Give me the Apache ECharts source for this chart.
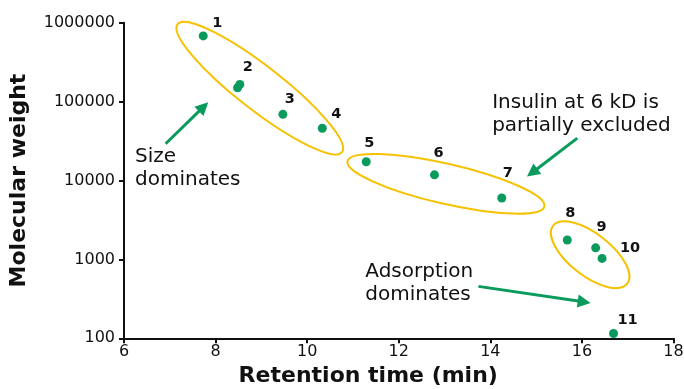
<!DOCTYPE html>
<html><head><meta charset="utf-8">
<script src="https://cdn.jsdelivr.net/npm/echarts@6/dist/echarts.min.js"></script>
<style>html,body{margin:0;padding:0;background:#fff}#c{width:684px;height:389px}</style>
</head><body><div id="c"></div>
<script>
// ---- data ----
const retentionTimes   = [7.73, 8.48, 8.53, 9.47, 10.33, 11.29, 12.78, 14.25, 15.68, 16.30, 16.44, 16.69];
const molecularWeights = [680000, 150000, 165000, 69000, 46000, 17300, 11800, 6000, 1760, 1400, 1030, 115];
const pointLabels      = ['1', '', '2', '3', '4', '5', '6', '7', '8', '9', '10', '11'];
const xTicks = [6, 8, 10, 12, 14, 16, 18];
const yTicks = [100, 1000, 10000, 100000, 1000000];
// annotation groups (ellipse end points, data units)
const ellipseEnds = [[7.17, 955000, 10.76, 22900], [10.88, 17600, 15.18, 4690], [15.37, 2670, 16.99, 492]];
// arrows (start -> tip, data units)
const arrowSegments = [[6.91, 29200, 7.84, 98200], [15.90, 34400, 14.80, 11200], [13.74, 455, 16.19, 281]];
// annotation texts and their anchors (data units)
const noteTexts = ['Size\ndominates', 'Insulin at 6 kD is\npartially excluded', 'Adsorption\ndominates'];
const noteAnchors = [[6.24, 28300], [14.04, 136000], [11.27, 964]];

// ---- styling (not data) ----
const labelOffsets = [[14,-13],[0,0],[8,-17],[7,-15],[14,-14],[3,-18],[4,-22],[6,-25],[3,-27],[6,-21],[28,-10],[14,-13]];
const ellipseMinor = [22, 20, 21];
const FONT = 'DejaVu Sans';
const GREEN = '#0A9A5C';
const YELLOW = '#F6C100';

const chart = echarts.init(document.getElementById('c'), null, {renderer: 'canvas'});

const scatterData = retentionTimes.map((x, i) => ({
  value: [x, molecularWeights[i]],
  label: {show: pointLabels[i] !== '', formatter: pointLabels[i], offset: labelOffsets[i]}
}));

chart.setOption({
  animation: false,
  backgroundColor: '#fff',
  grid: {left: 124, right: 10.5, top: 22.7, bottom: 50.7, outerBoundsMode: 'none', containLabel: false},
  xAxis: {
    type: 'value', min: xTicks[0], max: xTicks[xTicks.length - 1], interval: 2,
    name: 'Retention time (min)', nameLocation: 'middle', nameGap: 22,
    nameTextStyle: {fontFamily: FONT, fontWeight: 'bold', fontSize: 22, color: '#111', padding: [0, 61, 0, 0]},
    axisLine: {lineStyle: {color: '#111', width: 2}},
    axisTick: {length: 5, lineStyle: {color: '#111', width: 2}},
    axisLabel: {fontFamily: FONT, fontSize: 16, color: '#111', margin: 6},
    splitLine: {show: false}
  },
  yAxis: {
    type: 'log', logBase: 10, min: yTicks[0], max: yTicks[yTicks.length - 1],
    name: 'Molecular weight', nameLocation: 'middle', nameGap: 94,
    nameTextStyle: {fontFamily: FONT, fontWeight: 'bold', fontSize: 22, color: '#111'},
    axisLine: {lineStyle: {color: '#111', width: 2}},
    axisTick: {length: 5, lineStyle: {color: '#111', width: 2}},
    axisLabel: {fontFamily: FONT, fontSize: 16, color: '#111', margin: 9,
      formatter: v => String(Math.round(v))},
    splitLine: {show: false}, minorTick: {show: false}
  },
  series: [
    {
      type: 'custom', z: 2,
      data: ellipseEnds,
      encode: {x: [0, 2], y: [1, 3]},
      renderItem: (params, api) => {
        const p1 = api.coord([api.value(0), api.value(1)]);
        const p2 = api.coord([api.value(2), api.value(3)]);
        const dx = p2[0] - p1[0], dy = p2[1] - p1[1];
        const a = Math.sqrt(dx * dx + dy * dy) / 2;
        return {
          type: 'ellipse',
          x: (p1[0] + p2[0]) / 2, y: (p1[1] + p2[1]) / 2,
          rotation: -Math.atan2(dy, dx),
          shape: {cx: 0, cy: 0, rx: a, ry: ellipseMinor[params.dataIndex]},
          style: {fill: 'none', stroke: YELLOW, lineWidth: 2}
        };
      }
    },
    {
      type: 'custom', z: 3,
      data: arrowSegments,
      encode: {x: [0, 2], y: [1, 3]},
      renderItem: (params, api) => {
        const p1 = api.coord([api.value(0), api.value(1)]);
        const p2 = api.coord([api.value(2), api.value(3)]);
        const dx = p2[0] - p1[0], dy = p2[1] - p1[1];
        const len = Math.sqrt(dx * dx + dy * dy);
        const ux = dx / len, uy = dy / len, nx = -uy, ny = ux;
        const L = 13, W = 6.5;
        const bx = p2[0] - ux * L, by = p2[1] - uy * L;
        return {
          type: 'group',
          children: [
            {type: 'line', shape: {x1: p1[0], y1: p1[1], x2: bx + ux * 2, y2: by + uy * 2},
             style: {stroke: GREEN, lineWidth: 3}},
            {type: 'polygon', shape: {points: [[p2[0], p2[1]], [bx + nx * W, by + ny * W], [bx - nx * W, by - ny * W]]},
             style: {fill: GREEN}}
          ]
        };
      }
    },
    {
      type: 'scatter', z: 5,
      symbolSize: 9,
      itemStyle: {color: GREEN, opacity: 1},
      label: {position: 'inside', fontFamily: FONT, fontWeight: 'bold', fontSize: 14.5, color: '#111',
        align: 'center', verticalAlign: 'middle'},
      data: scatterData
    },
    {
      type: 'scatter', z: 4, symbolSize: 0, silent: true,
      itemStyle: {opacity: 1},
      data: noteAnchors.map((p, i) => ({value: p, label: {formatter: noteTexts[i]}})),
      label: {show: true, position: [0, 0], align: 'left', verticalAlign: 'top',
        fontFamily: FONT, fontSize: 20, lineHeight: 23, color: '#111', opacity: 1}
    }
  ]
});
</script>
</body></html>
